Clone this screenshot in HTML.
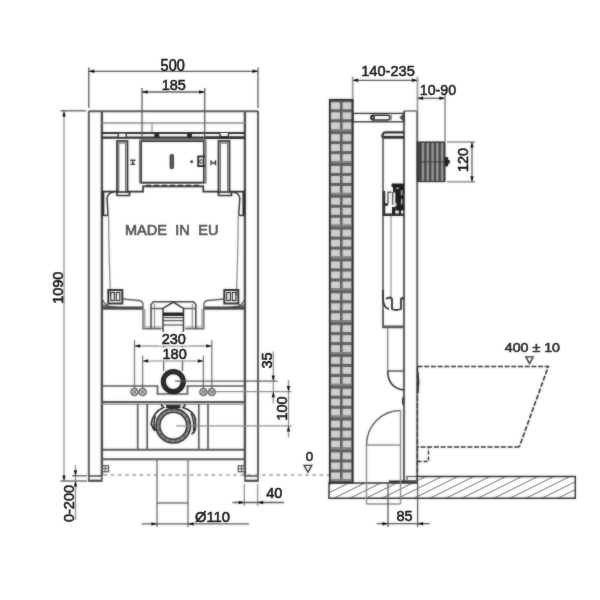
<!DOCTYPE html>
<html lang="en"><head><meta charset="utf-8"><title>Installation frame drawing</title>
<style>
html,body{margin:0;padding:0;background:#fff;}
body{width:600px;height:600px;overflow:hidden;}
svg{display:block;font-family:"Liberation Sans",Arial,Helvetica,sans-serif;}
</style></head><body>
<svg width="600" height="600" viewBox="0 0 600 600">
<defs><filter id="soft" x="0" y="0" width="600" height="600" filterUnits="userSpaceOnUse" color-interpolation-filters="sRGB"><feGaussianBlur in="SourceGraphic" stdDeviation="0.8" result="b"/><feComposite in="SourceGraphic" in2="b" operator="arithmetic" k1="0" k2="0.55" k3="0.45" k4="0"/></filter>
<filter id="softt" x="0" y="0" width="600" height="600" filterUnits="userSpaceOnUse" color-interpolation-filters="sRGB"><feGaussianBlur in="SourceGraphic" stdDeviation="0.8" result="b"/><feComposite in="SourceGraphic" in2="b" operator="arithmetic" k1="0" k2="0.75" k3="0.25" k4="0"/></filter></defs>
<rect width="600" height="600" fill="#fff"/>
<g filter="url(#soft)">
<line x1="88.8" y1="111" x2="88.8" y2="476" stroke="#555" stroke-width="1.95" />
<line x1="101.9" y1="111" x2="101.9" y2="476" stroke="#484848" stroke-width="2.34" />
<line x1="244.9" y1="111" x2="244.9" y2="476" stroke="#484848" stroke-width="2.34" />
<line x1="258" y1="111" x2="258" y2="476" stroke="#555" stroke-width="1.95" />
<rect x="88.8" y="476" width="13.0" height="5" stroke="#555" stroke-width="1.69" fill="none" />
<line x1="88.8" y1="480.6" x2="101.8" y2="480.6" stroke="#444" stroke-width="1.82" />
<rect x="245" y="476" width="13" height="5" stroke="#555" stroke-width="1.69" fill="none" />
<line x1="245" y1="480.6" x2="258" y2="480.6" stroke="#444" stroke-width="1.82" />
<line x1="88.8" y1="111.2" x2="258" y2="111.2" stroke="#555" stroke-width="1.95" />
<line x1="101.8" y1="123" x2="245" y2="123" stroke="#8a8a8a" stroke-width="1.30" />
<line x1="152" y1="123" x2="152" y2="133" stroke="#8a8a8a" stroke-width="1.17" />
<line x1="101.8" y1="133" x2="245" y2="133" stroke="#2a2a2a" stroke-width="2.08" />
<line x1="101.8" y1="137.6" x2="245" y2="137.6" stroke="#2a2a2a" stroke-width="2.34" />
<rect x="118.3" y="133" width="8" height="4.5" stroke="#2a2a2a" stroke-width="1.30" fill="#fff" />
<rect x="155" y="133" width="3.6" height="4.5" stroke="#2a2a2a" stroke-width="1.30" fill="#222" />
<rect x="187.8" y="133" width="3.4" height="4.5" stroke="#2a2a2a" stroke-width="1.30" fill="#222" />
<path d="M219.5 133 L220.5 136.6 H228 L229 133" stroke="#2a2a2a" stroke-width="1.43" fill="#fff" />
<line x1="205" y1="137.7" x2="245" y2="137.7" stroke="#2a2a2a" stroke-width="2.47" />
<rect x="117" y="141" width="10.5" height="51" stroke="#2a2a2a" stroke-width="1.69" fill="none" />
<rect x="118.8" y="143" width="6.9" height="49" stroke="#555" stroke-width="1.04" fill="none" />
<path d="M117 192 v3.5 h12.5 v-3.5" stroke="#2a2a2a" stroke-width="1.69" fill="none" />
<rect x="218.5" y="141" width="11.0" height="51" stroke="#2a2a2a" stroke-width="1.69" fill="none" />
<rect x="220.3" y="143" width="7.4" height="49" stroke="#555" stroke-width="1.04" fill="none" />
<path d="M218.5 192 v3.5 h13.0 v-3.5" stroke="#2a2a2a" stroke-width="1.69" fill="none" />
<line x1="130.0" y1="160.2" x2="135.60000000000002" y2="160.2" stroke="#2a2a2a" stroke-width="1.30" />
<line x1="130.5" y1="164.3" x2="135.10000000000002" y2="164.3" stroke="#2a2a2a" stroke-width="1.30" />
<line x1="132.8" y1="160" x2="132.8" y2="164.3" stroke="#2a2a2a" stroke-width="1.43" />
<line x1="211.10000000000002" y1="160.3" x2="211.10000000000002" y2="165.3" stroke="#2a2a2a" stroke-width="1.30" />
<line x1="215.5" y1="160.3" x2="215.5" y2="165.3" stroke="#2a2a2a" stroke-width="1.30" />
<line x1="211.10000000000002" y1="162.8" x2="215.5" y2="162.8" stroke="#2a2a2a" stroke-width="1.43" />
<rect x="140" y="140" width="65.5" height="43" stroke="#7a7a7a" stroke-width="2.21" fill="none" rx="1.5"/>
<rect x="141.3" y="141.3" width="62.4" height="41" stroke="#2a2a2a" stroke-width="1.30" fill="none" rx="1"/>
<line x1="146" y1="185.5" x2="200" y2="185.5" stroke="#2a2a2a" stroke-width="1.56" stroke-dasharray="5 3"/>
<rect x="170.3" y="154.5" width="3" height="14" stroke="#2a2a2a" stroke-width="1.17" fill="#666" rx="1.3"/>
<circle cx="191.7" cy="161.7" r="1.1" stroke="#2a2a2a" stroke-width="0.78" fill="#2a2a2a"/>
<path d="M205 156.5 H198.2 V166 H205" stroke="#2a2a2a" stroke-width="1.95" fill="none" />
<circle cx="201.5" cy="161.5" r="1.8" stroke="#2a2a2a" stroke-width="1.04" fill="none"/>
<path d="M101.8 191.7 H117 M127.5 191.7 H143 V186.3 H203.3 V191.7 H218.5 M229.5 191.7 H245" stroke="#2a2a2a" stroke-width="1.69" fill="none" />
<path d="M102.5 192 V214 Q102.5 215.5 104 215.5 H106.5 Q108 215.5 108 214 L107 198 Q108 192.5 114 192" stroke="#2a2a2a" stroke-width="1.43" fill="none" />
<path d="M244.3 192 V214 Q244.3 215.5 242.8 215.5 H240.3 Q238.8 215.5 238.8 214 L239.8 198 Q238.8 192.5 232.8 192" stroke="#2a2a2a" stroke-width="1.43" fill="none" />
<line x1="103.3" y1="192" x2="103.3" y2="215" stroke="#2a2a2a" stroke-width="2.08" />
<line x1="243.5" y1="192" x2="243.5" y2="215" stroke="#2a2a2a" stroke-width="2.08" />
<path d="M108.5 215 Q109 260 110.5 296" stroke="#8a8a8a" stroke-width="1.30" fill="none" />
<path d="M238.3 215 Q237.8 260 236.3 296" stroke="#8a8a8a" stroke-width="1.30" fill="none" />
<rect x="108.3" y="290" width="14" height="13.5" stroke="#2a2a2a" stroke-width="1.95" fill="none" />
<rect x="110.8" y="292.5" width="3.5" height="8" stroke="#2a2a2a" stroke-width="1.17" fill="none" />
<rect x="116.3" y="292.5" width="3.5" height="8" stroke="#2a2a2a" stroke-width="1.17" fill="none" />
<rect x="224.3" y="290" width="14" height="13.5" stroke="#2a2a2a" stroke-width="1.95" fill="none" />
<rect x="226.8" y="292.5" width="3.5" height="8" stroke="#2a2a2a" stroke-width="1.17" fill="none" />
<rect x="232.3" y="292.5" width="3.5" height="8" stroke="#2a2a2a" stroke-width="1.17" fill="none" />
<path d="M102 297 Q103 304 108 305 M122.5 299 L139 300.5 Q143 301 143 305 M102 305 Q120 309.5 143 307.5 M102 309 H143" stroke="#555" stroke-width="1.30" fill="none" />
<path d="M245 297 Q244 304 239 305 M224.3 299 L207.8 300.5 Q203.8 301 203.8 305 M245 305 Q227 309.5 203.8 307.5 M245 309 H203.8" stroke="#555" stroke-width="1.30" fill="none" />
<line x1="102" y1="307.8" x2="143" y2="307.8" stroke="#444" stroke-width="2.60" />
<line x1="203.8" y1="307.8" x2="245" y2="307.8" stroke="#444" stroke-width="2.60" />
<path d="M143 305 V328.7 H161.5" stroke="#666" stroke-width="1.43" fill="none" />
<path d="M144.8 309 V327 M143 327 H161.5" stroke="#8a8a8a" stroke-width="1.17" fill="none" />
<path d="M203.8 305 V328.7 H185.3" stroke="#666" stroke-width="1.43" fill="none" />
<path d="M202 309 V327 M203.8 327 H185.3" stroke="#8a8a8a" stroke-width="1.17" fill="none" />
<path d="M151 328.7 V304.5 L153.5 301.7 H193.3 L195.8 304.5 V328.7" stroke="#444" stroke-width="1.56" fill="none" />
<path d="M151 308.5 H163 M183.5 308.5 H195.8" stroke="#555" stroke-width="1.56" fill="none" />
<path d="M154.5 304 V328 M192.3 304 V328" stroke="#8a8a8a" stroke-width="1.17" fill="none" />
<path d="M163 331.5 V308.5 L173.3 302.2 L183.5 308.5 V331.5" stroke="#2a2a2a" stroke-width="1.43" fill="none" />
<line x1="163" y1="314.2" x2="183.5" y2="314.2" stroke="#1a1a1a" stroke-width="3.38" />
<line x1="163" y1="317.6" x2="183.5" y2="317.6" stroke="#555" stroke-width="1.30" />
<line x1="163" y1="320.6" x2="183.5" y2="320.6" stroke="#555" stroke-width="1.30" />
<line x1="163" y1="325" x2="183.5" y2="325" stroke="#555" stroke-width="1.30" />
<line x1="163.6" y1="331" x2="163.6" y2="371" stroke="#555" stroke-width="1.30" />
<line x1="182.5" y1="331" x2="182.5" y2="371" stroke="#555" stroke-width="1.30" />
<line x1="134.5" y1="346" x2="211.8" y2="346" stroke="#999" stroke-width="1.30" />
<line x1="134.5" y1="340" x2="134.5" y2="389" stroke="#777" stroke-width="1.30" />
<line x1="211.8" y1="340" x2="211.8" y2="389" stroke="#777" stroke-width="1.30" />
<rect x="158" y="332" width="32" height="13.5" fill="#fff"/>
<line x1="142.6" y1="361" x2="203.4" y2="361" stroke="#aaa" stroke-width="1.30" />
<line x1="142.6" y1="355.5" x2="142.6" y2="389" stroke="#777" stroke-width="1.30" />
<line x1="203.4" y1="355.5" x2="203.4" y2="389" stroke="#777" stroke-width="1.30" />
<rect x="158" y="347.5" width="32" height="12.5" fill="#fff"/>
<circle cx="134.5" cy="392" r="3.5" stroke="#666" stroke-width="1.56" fill="#e4e4e4"/>
<path d="M132.2 389.7 L136.8 394.3 M132.2 394.3 L136.8 389.7" stroke="#777" stroke-width="1.17" fill="none" />
<circle cx="142.6" cy="392" r="3.5" stroke="#666" stroke-width="1.56" fill="#e4e4e4"/>
<path d="M140.29999999999998 389.7 L144.9 394.3 M140.29999999999998 394.3 L144.9 389.7" stroke="#777" stroke-width="1.17" fill="none" />
<circle cx="203.4" cy="392" r="3.5" stroke="#666" stroke-width="1.56" fill="#e4e4e4"/>
<path d="M201.1 389.7 L205.70000000000002 394.3 M201.1 394.3 L205.70000000000002 389.7" stroke="#777" stroke-width="1.17" fill="none" />
<circle cx="211.8" cy="392" r="3.5" stroke="#666" stroke-width="1.56" fill="#e4e4e4"/>
<path d="M209.5 389.7 L214.10000000000002 394.3 M209.5 394.3 L214.10000000000002 389.7" stroke="#777" stroke-width="1.17" fill="none" />
<path d="M101.8 386 H157.5 V394 H187.5 V386 H245" stroke="#555" stroke-width="1.69" fill="none" />
<line x1="101.8" y1="402" x2="245" y2="402" stroke="#555" stroke-width="1.95" />
<line x1="101.8" y1="404.2" x2="245" y2="404.2" stroke="#8a8a8a" stroke-width="1.17" />
<circle cx="173.3" cy="381.6" r="10.0" stroke="#3c3c3c" stroke-width="3.90" fill="none"/>
<circle cx="173.3" cy="381.6" r="10" fill="none" stroke="#262626" stroke-width="3.8" stroke-dasharray="2.2 0.9"/>
<circle cx="173.3" cy="381.6" r="11.9" stroke="#1a1a1a" stroke-width="1.30" fill="none"/>
<circle cx="173.3" cy="381.6" r="8.0" stroke="#1a1a1a" stroke-width="1.17" fill="none"/>
<line x1="175" y1="381.2" x2="277.5" y2="381.2" stroke="#555" stroke-width="1.30" />
<line x1="157.5" y1="391.7" x2="291.7" y2="391.7" stroke="#555" stroke-width="0.00" />
<line x1="137.7" y1="404" x2="137.7" y2="449.7" stroke="#555" stroke-width="1.69" />
<line x1="147.2" y1="404" x2="147.2" y2="449.7" stroke="#555" stroke-width="1.69" />
<line x1="198.8" y1="404" x2="198.8" y2="449.7" stroke="#555" stroke-width="1.69" />
<line x1="208" y1="404" x2="208" y2="449.7" stroke="#555" stroke-width="1.69" />
<line x1="101.8" y1="449.7" x2="245" y2="449.7" stroke="#555" stroke-width="2.08" />
<line x1="101.8" y1="459.3" x2="245" y2="459.3" stroke="#555" stroke-width="2.08" />
<circle cx="173.3" cy="425.8" r="15.4" stroke="#8a8a8a" stroke-width="3.90" fill="none"/>
<circle cx="173.3" cy="425.8" r="15.4" fill="none" stroke="#5a5a5a" stroke-width="3.2" stroke-dasharray="1.1 4.3"/>
<circle cx="173.3" cy="425.8" r="17.3" stroke="#2a2a2a" stroke-width="1.43" fill="none"/>
<circle cx="173.3" cy="425.8" r="13.4" stroke="#2a2a2a" stroke-width="1.43" fill="none"/>
<path d="M161 404.5 L163.5 407.5 Q153 412 151.2 424 L154.5 430.5 M185.5 404.5 L183 407.5 Q193.5 411 195.3 419 L195.3 428 Q194.5 433 191.5 434" stroke="#2a2a2a" stroke-width="1.82" fill="none" />
<path d="M155.5 416 Q152.5 424 155.5 431 M191 413 Q194.5 421 193.5 431" stroke="#2a2a2a" stroke-width="1.43" fill="none" />
<path d="M166 406.5 H180.5" stroke="#2a2a2a" stroke-width="3.25" fill="none" />
<line x1="176" y1="425.8" x2="291.7" y2="425.8" stroke="#8a8a8a" stroke-width="1.30" />
<rect x="102" y="465.7" width="6.5" height="6" stroke="#555" stroke-width="1.30" fill="none" />
<line x1="105.2" y1="465.7" x2="105.2" y2="471.7" stroke="#555" stroke-width="1.04" />
<line x1="102" y1="468.7" x2="108.5" y2="468.7" stroke="#555" stroke-width="1.04" />
<rect x="238.3" y="465.7" width="6.5" height="6" stroke="#555" stroke-width="1.30" fill="none" />
<line x1="241.5" y1="465.7" x2="241.5" y2="471.7" stroke="#555" stroke-width="1.04" />
<line x1="238.3" y1="468.7" x2="244.8" y2="468.7" stroke="#555" stroke-width="1.04" />
<line x1="157" y1="459.3" x2="157" y2="527" stroke="#6a6a6a" stroke-width="1.30" />
<line x1="188" y1="459.3" x2="188" y2="527" stroke="#6a6a6a" stroke-width="1.30" />
<line x1="157" y1="503" x2="188" y2="503" stroke="#555" stroke-width="1.30" />
<line x1="103.5" y1="475" x2="329" y2="475" stroke="#6e6e6e" stroke-width="1.10" stroke-dasharray="3.8 3.4"/>
<line x1="88.8" y1="71.3" x2="258" y2="71.3" stroke="#555" stroke-width="1.30" />
<line x1="88.8" y1="67.5" x2="88.8" y2="108" stroke="#555" stroke-width="1.30" />
<line x1="258" y1="67.5" x2="258" y2="108" stroke="#555" stroke-width="1.30" />
<line x1="142" y1="92" x2="204.7" y2="92" stroke="#555" stroke-width="1.30" />
<line x1="142" y1="88" x2="142" y2="140" stroke="#555" stroke-width="1.30" />
<line x1="204.7" y1="88" x2="204.7" y2="140" stroke="#555" stroke-width="1.30" />
<line x1="64" y1="111" x2="64" y2="481" stroke="#8a8a8a" stroke-width="1.30" />
<line x1="60.5" y1="110.8" x2="86" y2="110.8" stroke="#555" stroke-width="1.30" />
<line x1="60.5" y1="481" x2="87" y2="481" stroke="#555" stroke-width="1.30" />
<line x1="75.5" y1="465" x2="75.5" y2="520" stroke="#8a8a8a" stroke-width="1.30" />
<line x1="72" y1="475.8" x2="87" y2="475.8" stroke="#555" stroke-width="1.30" />
<line x1="141.7" y1="523.9" x2="249" y2="523.9" stroke="#555" stroke-width="1.30" />
<line x1="244.3" y1="484" x2="244.3" y2="506" stroke="#8a8a8a" stroke-width="1.30" />
<line x1="257.6" y1="484" x2="257.6" y2="506" stroke="#8a8a8a" stroke-width="1.30" />
<line x1="232.5" y1="502.5" x2="284" y2="502.5" stroke="#555" stroke-width="1.30" />
<line x1="273.3" y1="351.5" x2="273.3" y2="403.5" stroke="#8a8a8a" stroke-width="1.30" />
<line x1="203.4" y1="391.7" x2="291.7" y2="391.7" stroke="#8a8a8a" stroke-width="1.30" />
<line x1="288.5" y1="380" x2="288.5" y2="437.5" stroke="#8a8a8a" stroke-width="1.30" />
<path d="M304 465.3 H311.9 L307.9 472.2 Z" stroke="#2a2a2a" stroke-width="1.30" fill="none" />
<g>
<rect x="329" y="99" width="24.4" height="384" fill="#5e5e5e"/>
<clipPath id="wc"><rect x="329" y="99" width="24.4" height="384"/></clipPath>
<g clip-path="url(#wc)">
<rect x="331" y="102.30" width="9" height="7" fill="#d0d0d0"/>
<rect x="342.6" y="102.30" width="8.7" height="7" fill="#d0d0d0"/>
<rect x="331" y="112.30" width="9" height="7" fill="#d0d0d0"/>
<rect x="342.6" y="112.30" width="8.7" height="7" fill="#d0d0d0"/>
<rect x="331" y="122.30" width="9" height="7" fill="#d0d0d0"/>
<rect x="342.6" y="122.30" width="8.7" height="7" fill="#d0d0d0"/>
<rect x="330.5" y="129.10" width="21.5" height="2.2" fill="#828282"/>
<rect x="331" y="134.13" width="9" height="7" fill="#d0d0d0"/>
<rect x="342.6" y="134.13" width="8.7" height="7" fill="#d0d0d0"/>
<rect x="331" y="144.13" width="9" height="7" fill="#d0d0d0"/>
<rect x="342.6" y="144.13" width="8.7" height="7" fill="#d0d0d0"/>
<rect x="331" y="154.13" width="9" height="7" fill="#d0d0d0"/>
<rect x="342.6" y="154.13" width="8.7" height="7" fill="#d0d0d0"/>
<rect x="330.5" y="160.93" width="21.5" height="2.2" fill="#828282"/>
<rect x="331" y="165.96" width="9" height="7" fill="#d0d0d0"/>
<rect x="342.6" y="165.96" width="8.7" height="7" fill="#d0d0d0"/>
<rect x="331" y="175.96" width="9" height="7" fill="#d0d0d0"/>
<rect x="342.6" y="175.96" width="8.7" height="7" fill="#d0d0d0"/>
<rect x="331" y="185.96" width="9" height="7" fill="#d0d0d0"/>
<rect x="342.6" y="185.96" width="8.7" height="7" fill="#d0d0d0"/>
<rect x="330.5" y="192.76" width="21.5" height="2.2" fill="#828282"/>
<rect x="331" y="197.79" width="9" height="7" fill="#d0d0d0"/>
<rect x="342.6" y="197.79" width="8.7" height="7" fill="#d0d0d0"/>
<rect x="331" y="207.79" width="9" height="7" fill="#d0d0d0"/>
<rect x="342.6" y="207.79" width="8.7" height="7" fill="#d0d0d0"/>
<rect x="331" y="217.79" width="9" height="7" fill="#d0d0d0"/>
<rect x="342.6" y="217.79" width="8.7" height="7" fill="#d0d0d0"/>
<rect x="330.5" y="224.59" width="21.5" height="2.2" fill="#828282"/>
<rect x="331" y="229.62" width="9" height="7" fill="#d0d0d0"/>
<rect x="342.6" y="229.62" width="8.7" height="7" fill="#d0d0d0"/>
<rect x="331" y="239.62" width="9" height="7" fill="#d0d0d0"/>
<rect x="342.6" y="239.62" width="8.7" height="7" fill="#d0d0d0"/>
<rect x="331" y="249.62" width="9" height="7" fill="#d0d0d0"/>
<rect x="342.6" y="249.62" width="8.7" height="7" fill="#d0d0d0"/>
<rect x="330.5" y="256.42" width="21.5" height="2.2" fill="#828282"/>
<rect x="331" y="261.45" width="9" height="7" fill="#d0d0d0"/>
<rect x="342.6" y="261.45" width="8.7" height="7" fill="#d0d0d0"/>
<rect x="331" y="271.45" width="9" height="7" fill="#d0d0d0"/>
<rect x="342.6" y="271.45" width="8.7" height="7" fill="#d0d0d0"/>
<rect x="331" y="281.45" width="9" height="7" fill="#d0d0d0"/>
<rect x="342.6" y="281.45" width="8.7" height="7" fill="#d0d0d0"/>
<rect x="330.5" y="288.25" width="21.5" height="2.2" fill="#828282"/>
<rect x="331" y="293.28" width="9" height="7" fill="#d0d0d0"/>
<rect x="342.6" y="293.28" width="8.7" height="7" fill="#d0d0d0"/>
<rect x="331" y="303.28" width="9" height="7" fill="#d0d0d0"/>
<rect x="342.6" y="303.28" width="8.7" height="7" fill="#d0d0d0"/>
<rect x="331" y="313.28" width="9" height="7" fill="#d0d0d0"/>
<rect x="342.6" y="313.28" width="8.7" height="7" fill="#d0d0d0"/>
<rect x="330.5" y="320.08" width="21.5" height="2.2" fill="#828282"/>
<rect x="331" y="325.11" width="9" height="7" fill="#d0d0d0"/>
<rect x="342.6" y="325.11" width="8.7" height="7" fill="#d0d0d0"/>
<rect x="331" y="335.11" width="9" height="7" fill="#d0d0d0"/>
<rect x="342.6" y="335.11" width="8.7" height="7" fill="#d0d0d0"/>
<rect x="331" y="345.11" width="9" height="7" fill="#d0d0d0"/>
<rect x="342.6" y="345.11" width="8.7" height="7" fill="#d0d0d0"/>
<rect x="330.5" y="351.91" width="21.5" height="2.2" fill="#828282"/>
<rect x="331" y="356.94" width="9" height="7" fill="#d0d0d0"/>
<rect x="342.6" y="356.94" width="8.7" height="7" fill="#d0d0d0"/>
<rect x="331" y="366.94" width="9" height="7" fill="#d0d0d0"/>
<rect x="342.6" y="366.94" width="8.7" height="7" fill="#d0d0d0"/>
<rect x="331" y="376.94" width="9" height="7" fill="#d0d0d0"/>
<rect x="342.6" y="376.94" width="8.7" height="7" fill="#d0d0d0"/>
<rect x="330.5" y="383.74" width="21.5" height="2.2" fill="#828282"/>
<rect x="331" y="388.77" width="9" height="7" fill="#d0d0d0"/>
<rect x="342.6" y="388.77" width="8.7" height="7" fill="#d0d0d0"/>
<rect x="331" y="398.77" width="9" height="7" fill="#d0d0d0"/>
<rect x="342.6" y="398.77" width="8.7" height="7" fill="#d0d0d0"/>
<rect x="331" y="408.77" width="9" height="7" fill="#d0d0d0"/>
<rect x="342.6" y="408.77" width="8.7" height="7" fill="#d0d0d0"/>
<rect x="330.5" y="415.57" width="21.5" height="2.2" fill="#828282"/>
<rect x="331" y="420.60" width="9" height="7" fill="#d0d0d0"/>
<rect x="342.6" y="420.60" width="8.7" height="7" fill="#d0d0d0"/>
<rect x="331" y="430.60" width="9" height="7" fill="#d0d0d0"/>
<rect x="342.6" y="430.60" width="8.7" height="7" fill="#d0d0d0"/>
<rect x="331" y="440.60" width="9" height="7" fill="#d0d0d0"/>
<rect x="342.6" y="440.60" width="8.7" height="7" fill="#d0d0d0"/>
<rect x="330.5" y="447.40" width="21.5" height="2.2" fill="#828282"/>
<rect x="331" y="452.43" width="9" height="7" fill="#d0d0d0"/>
<rect x="342.6" y="452.43" width="8.7" height="7" fill="#d0d0d0"/>
<rect x="331" y="462.43" width="9" height="7" fill="#d0d0d0"/>
<rect x="342.6" y="462.43" width="8.7" height="7" fill="#d0d0d0"/>
<rect x="331" y="472.43" width="9" height="7" fill="#d0d0d0"/>
<rect x="342.6" y="472.43" width="8.7" height="7" fill="#d0d0d0"/>
<rect x="330.5" y="479.23" width="21.5" height="2.2" fill="#828282"/>
<rect x="331" y="484.26" width="9" height="7" fill="#d0d0d0"/>
<rect x="342.6" y="484.26" width="8.7" height="7" fill="#d0d0d0"/>
<rect x="331" y="494.26" width="9" height="7" fill="#d0d0d0"/>
<rect x="342.6" y="494.26" width="8.7" height="7" fill="#d0d0d0"/>
<rect x="331" y="504.26" width="9" height="7" fill="#d0d0d0"/>
<rect x="342.6" y="504.26" width="8.7" height="7" fill="#d0d0d0"/>
<rect x="330.5" y="511.06" width="21.5" height="2.2" fill="#828282"/>
</g>
<rect x="329.7" y="99.7" width="23" height="382.8" fill="none" stroke="#262626" stroke-width="1.6"/>
</g>
<clipPath id="fc"><path d="M329 483 H417.3 V476.5 H575.3 V498.3 H329 Z"/></clipPath>
<g clip-path="url(#fc)" stroke="#606060" stroke-width="0.95">
<line x1="329.8" y1="476.5" x2="285.8" y2="498.3"/>
<line x1="345.8" y1="476.5" x2="301.8" y2="498.3"/>
<line x1="361.8" y1="476.5" x2="317.8" y2="498.3"/>
<line x1="377.8" y1="476.5" x2="333.8" y2="498.3"/>
<line x1="393.8" y1="476.5" x2="349.8" y2="498.3"/>
<line x1="409.8" y1="476.5" x2="365.8" y2="498.3"/>
<line x1="425.8" y1="476.5" x2="381.8" y2="498.3"/>
<line x1="441.8" y1="476.5" x2="397.8" y2="498.3"/>
<line x1="457.8" y1="476.5" x2="413.8" y2="498.3"/>
<line x1="473.8" y1="476.5" x2="429.8" y2="498.3"/>
<line x1="489.8" y1="476.5" x2="445.8" y2="498.3"/>
<line x1="505.8" y1="476.5" x2="461.8" y2="498.3"/>
<line x1="521.8" y1="476.5" x2="477.8" y2="498.3"/>
<line x1="537.8" y1="476.5" x2="493.8" y2="498.3"/>
<line x1="553.8" y1="476.5" x2="509.8" y2="498.3"/>
<line x1="569.8" y1="476.5" x2="525.8" y2="498.3"/>
<line x1="585.8" y1="476.5" x2="541.8" y2="498.3"/>
<line x1="601.8" y1="476.5" x2="557.8" y2="498.3"/>
<line x1="617.8" y1="476.5" x2="573.8" y2="498.3"/>
<line x1="633.8" y1="476.5" x2="589.8" y2="498.3"/>
</g>
<path d="M329 483 H417.3 V476.5 H575.3 V498.3 H329 Z" stroke="#2a2a2a" stroke-width="1.43" fill="none" />
<line x1="404" y1="111" x2="404" y2="481" stroke="#5c5c5c" stroke-width="2.08" />
<line x1="417.2" y1="111" x2="417.2" y2="477" stroke="#606060" stroke-width="1.95" />
<line x1="404" y1="111" x2="417.2" y2="111" stroke="#707070" stroke-width="1.56" />
<path d="M389 481.6 H417.5" stroke="#2a2a2a" stroke-width="2.21" fill="none" />
<rect x="407" y="476.5" width="10" height="4.5" stroke="#555" stroke-width="1.30" fill="none" />
<rect x="353" y="113.4" width="51" height="8.4" stroke="#2a2a2a" stroke-width="1.30" fill="none" />
<rect x="370.8" y="115.2" width="19.2" height="4.8" stroke="#2a2a2a" stroke-width="1.43" fill="none" rx="2.4"/>
<circle cx="372.7" cy="117.6" r="1.5" stroke="#2a2a2a" stroke-width="1.69" fill="none"/>
<line x1="391.3" y1="113.3" x2="391.3" y2="122" stroke="#888" stroke-width="1.17" />
<polygon points="399.3,117.6 403.6,113.6 403.6,121.6" fill="#4a4a4a"/>
<path d="M404 132.3 H385.5 Q382.3 132.6 382.3 137.3" stroke="#2a2a2a" stroke-width="2.21" fill="none" />
<line x1="382" y1="137.3" x2="404" y2="137.3" stroke="#2a2a2a" stroke-width="2.86" />
<line x1="383" y1="137.3" x2="383" y2="327.5" stroke="#555" stroke-width="1.69" />
<line x1="391" y1="215" x2="391" y2="300" stroke="#8a8a8a" stroke-width="1.17" />
<rect x="395.3" y="186" width="8.7" height="24.5" fill="#1c1c1c"/>
<rect x="391.5" y="183.6" width="12.5" height="3.6" fill="#1c1c1c" rx="1"/>
<rect x="400.8" y="190" width="1.7" height="5.5" fill="#aaa"/>
<rect x="400.8" y="199" width="1.7" height="5.5" fill="#aaa"/>
<rect x="396.5" y="187.5" width="2.5" height="1.6" fill="#bbb"/>
<rect x="394.5" y="203" width="2" height="3" fill="#ddd"/>
<path d="M384 191 V214.7 H404" stroke="#2a2a2a" stroke-width="2.47" fill="none" />
<path d="M384.5 204.5 H388" stroke="#2a2a2a" stroke-width="2.60" fill="none" />
<path d="M388 204 V192.3 H391.5 M392.6 192 V205" stroke="#555" stroke-width="1.43" fill="none" />
<rect x="392" y="207" width="3.3" height="7.5" fill="#1c1c1c"/>
<rect x="398.8" y="209.5" width="2.2" height="5" fill="#1c1c1c"/>
<rect x="393" y="186.5" width="2.5" height="6" fill="#1c1c1c"/>
<path d="M383 290 V300 Q384 308 389 309 M386 299 Q390 296 392 299 V309 Q396 311 401 309 V299 Q403 297 404 299" stroke="#2a2a2a" stroke-width="1.82" fill="none" />
<path d="M383 310 V327.5 H404" stroke="#555" stroke-width="1.56" fill="none" />
<line x1="383" y1="326.5" x2="404" y2="326.5" stroke="#555" stroke-width="2.08" />
<line x1="387.7" y1="327.5" x2="387.7" y2="371" stroke="#8a8a8a" stroke-width="1.56" />
<line x1="387.7" y1="371" x2="404" y2="371" stroke="#555" stroke-width="1.56" />
<path d="M387.7 371 Q388 388 404 390" stroke="#2a2a2a" stroke-width="1.56" fill="none" />
<path d="M403.3 397 Q402 401 403.3 405" stroke="#2a2a2a" stroke-width="1.56" fill="none" />
<path d="M366.5 445 A34 34.5 0 0 1 400.5 410.5" stroke="#555" stroke-width="1.43" fill="none" />
<line x1="366.5" y1="445" x2="366.5" y2="504" stroke="#8a8a8a" stroke-width="1.43" />
<line x1="400.5" y1="410.5" x2="400.5" y2="504" stroke="#8a8a8a" stroke-width="1.43" />
<line x1="366.5" y1="445" x2="400.5" y2="445" stroke="#8a8a8a" stroke-width="1.43" />
<line x1="366.5" y1="504" x2="400.5" y2="504" stroke="#8a8a8a" stroke-width="1.43" />
<rect x="417.3" y="142" width="27.7" height="39.6" fill="#444" stroke="#2a2a2a" stroke-width="1.1"/>
<rect x="421.8" y="143" width="2.4" height="37.8" fill="#999"/>
<rect x="426.6" y="143" width="2.4" height="37.8" fill="#999"/>
<rect x="431.40000000000003" y="143" width="2.4" height="37.8" fill="#999"/>
<rect x="436.1" y="143" width="2.4" height="37.8" fill="#999"/>
<rect x="440.90000000000003" y="143" width="2.4" height="37.8" fill="#999"/>
<line x1="417.3" y1="161.8" x2="445" y2="161.8" stroke="#444" stroke-width="1.17" />
<rect x="445" y="157" width="3.2" height="9.5" fill="#222" rx="1.2"/>
<rect x="448" y="160" width="1.8" height="3.5" fill="#222"/>
<path d="M417.8 372 Q419.3 382 417.8 393" stroke="#2a2a2a" stroke-width="1.69" fill="none" />
<path d="M417.5 366.5 H548.3 L519.3 447" stroke="#2a2a2a" stroke-width="1.62" fill="none" stroke-dasharray="5 1.7"/>
<path d="M519.3 447 H417.5" stroke="#2a2a2a" stroke-width="1.62" fill="none" stroke-dasharray="5 1.7"/>
<path d="M417.5 461.5 H428.5 V447" stroke="#2a2a2a" stroke-width="1.43" fill="none" stroke-dasharray="4 2"/>
<path d="M417.4 367 V477" stroke="#2a2a2a" stroke-width="1.30" fill="none" stroke-dasharray="5 2.2"/>
<path d="M525.8 356.8 H533.2 L529.5 363.6 Z" stroke="#2a2a2a" stroke-width="1.30" fill="none" />
<line x1="352.5" y1="80.3" x2="417.5" y2="80.3" stroke="#555" stroke-width="1.30" />
<line x1="352.7" y1="76.5" x2="352.7" y2="99" stroke="#999" stroke-width="1.82" />
<line x1="417.5" y1="76.5" x2="417.5" y2="111" stroke="#999" stroke-width="1.82" />
<line x1="417.5" y1="98.3" x2="445" y2="98.3" stroke="#555" stroke-width="1.30" />
<line x1="445" y1="94" x2="445" y2="141" stroke="#999" stroke-width="1.82" />
<line x1="447" y1="142" x2="475" y2="142" stroke="#999" stroke-width="1.69" />
<line x1="447" y1="181.8" x2="475" y2="181.8" stroke="#999" stroke-width="1.69" />
<line x1="472" y1="142" x2="472" y2="181.8" stroke="#555" stroke-width="1.30" />
<line x1="388" y1="482" x2="388" y2="527" stroke="#555" stroke-width="1.30" />
<line x1="417.6" y1="482" x2="417.6" y2="527" stroke="#555" stroke-width="1.30" />
<line x1="376.7" y1="523.7" x2="429.7" y2="523.7" stroke="#555" stroke-width="1.30" />
</g>
<g filter="url(#softt)">
<text transform="translate(125.0 234.6) scale(1.0 1.0)" font-size="14.5" text-anchor="start" fill="#5a5a5a" stroke="#5a5a5a" stroke-width="0.7" style="word-spacing:4.4px">MADE IN EU</text>
<polygon points="134.5,346 140.1,344.3 140.1,347.7" fill="#1e1e1e"/>
<polygon points="211.8,346 206.20000000000002,344.3 206.20000000000002,347.7" fill="#1e1e1e"/>
<text transform="translate(173.8 344.4) scale(1.0 1.04)" font-size="14.5" text-anchor="middle" fill="#141414" stroke="#141414" stroke-width="0.55" >230</text>
<polygon points="142.6,361 148.2,359.3 148.2,362.7" fill="#1e1e1e"/>
<polygon points="203.4,361 197.8,359.3 197.8,362.7" fill="#1e1e1e"/>
<text transform="translate(174.6 359) scale(1.0 1.04)" font-size="14.5" text-anchor="middle" fill="#141414" stroke="#141414" stroke-width="0.55" >180</text>
<polygon points="88.8,71.3 94.39999999999999,69.6 94.39999999999999,73.0" fill="#1e1e1e"/>
<polygon points="258,71.3 252.4,69.6 252.4,73.0" fill="#1e1e1e"/>
<text transform="translate(172.7 70.7) scale(1.0 1.08)" font-size="14.5" text-anchor="middle" fill="#141414" stroke="#141414" stroke-width="0.55" >500</text>
<polygon points="142,92 147.6,90.3 147.6,93.7" fill="#1e1e1e"/>
<polygon points="204.7,92 199.1,90.3 199.1,93.7" fill="#1e1e1e"/>
<text transform="translate(173.8 90) scale(1.0 1.04)" font-size="14.5" text-anchor="middle" fill="#141414" stroke="#141414" stroke-width="0.55" >185</text>
<polygon points="64,111 62.3,116.6 65.7,116.6" fill="#1e1e1e"/>
<polygon points="64,481 62.3,475.4 65.7,475.4" fill="#1e1e1e"/>
<text transform="translate(62.8 287.7) rotate(-90) scale(1.0 1.0)" font-size="14.5" text-anchor="middle" fill="#141414" stroke="#141414" stroke-width="0.55" >1090</text>
<polygon points="75.5,475.8 73.8,470.2 77.2,470.2" fill="#1e1e1e"/>
<polygon points="75.5,481 73.8,486.6 77.2,486.6" fill="#1e1e1e"/>
<text transform="translate(74.3 503.5) rotate(-90) scale(1.0 1.0)" font-size="14.5" text-anchor="middle" fill="#141414" stroke="#141414" stroke-width="0.55" >0-200</text>
<polygon points="157,523.9 151.4,522.1999999999999 151.4,525.6" fill="#1e1e1e"/>
<polygon points="188,523.9 193.6,522.1999999999999 193.6,525.6" fill="#1e1e1e"/>
<text transform="translate(195 522) scale(1 1.04)" font-size="14.5" text-anchor="start" fill="#141414" stroke="#141414" stroke-width="0.55" textLength="35" lengthAdjust="spacingAndGlyphs" >Ø110</text>
<polygon points="244.3,502.5 238.70000000000002,500.8 238.70000000000002,504.2" fill="#1e1e1e"/>
<polygon points="257.6,502.5 263.20000000000005,500.8 263.20000000000005,504.2" fill="#1e1e1e"/>
<text transform="translate(266.3 497.6) scale(1.0 1.04)" font-size="14.5" text-anchor="start" fill="#141414" stroke="#141414" stroke-width="0.55" >40</text>
<polygon points="273.3,381.2 271.6,375.59999999999997 275.0,375.59999999999997" fill="#1e1e1e"/>
<polygon points="273.3,391.7 271.6,397.3 275.0,397.3" fill="#1e1e1e"/>
<text transform="translate(271.5 360.5) rotate(-90) scale(1.0 1.0)" font-size="14.5" text-anchor="middle" fill="#141414" stroke="#141414" stroke-width="0.55" >35</text>
<polygon points="288.5,391.7 286.8,386.09999999999997 290.2,386.09999999999997" fill="#1e1e1e"/>
<polygon points="288.5,425.8 286.8,431.40000000000003 290.2,431.40000000000003" fill="#1e1e1e"/>
<text transform="translate(286.5 408.5) rotate(-90) scale(1.0 1.0)" font-size="14.5" text-anchor="middle" fill="#141414" stroke="#141414" stroke-width="0.55" >100</text>
<text transform="translate(305.7 460.6) scale(1.0 1.0)" font-size="13.3" text-anchor="start" fill="#141414" stroke="#141414" stroke-width="0.55" >0</text>
<text transform="translate(504.8 352) scale(1.0 0.93)" font-size="14.2" text-anchor="start" fill="#2e2e2e" stroke="#2e2e2e" stroke-width="0.7" >400 ± 10</text>
<polygon points="352.5,80.3 358.1,78.6 358.1,82.0" fill="#1e1e1e"/>
<polygon points="417.5,80.3 411.9,78.6 411.9,82.0" fill="#1e1e1e"/>
<text transform="translate(361.2 76.4) scale(1 1.04)" font-size="14.5" text-anchor="start" fill="#141414" stroke="#141414" stroke-width="0.5" textLength="53.6" lengthAdjust="spacingAndGlyphs" >140-235</text>
<polygon points="417.5,98.3 423.1,96.6 423.1,100.0" fill="#1e1e1e"/>
<polygon points="445,98.3 439.4,96.6 439.4,100.0" fill="#1e1e1e"/>
<text transform="translate(419.8 95) scale(1 1.04)" font-size="14.5" text-anchor="start" fill="#141414" stroke="#141414" stroke-width="0.5" textLength="36.3" lengthAdjust="spacingAndGlyphs" >10-90</text>
<polygon points="472,142 470.3,147.6 473.7,147.6" fill="#1e1e1e"/>
<polygon points="472,181.8 470.3,176.20000000000002 473.7,176.20000000000002" fill="#1e1e1e"/>
<text transform="translate(467.5 160) rotate(-90) scale(1.0 1.0)" font-size="14.5" text-anchor="middle" fill="#141414" stroke="#141414" stroke-width="0.55" >120</text>
<polygon points="388,523.7 382.4,522.0 382.4,525.4000000000001" fill="#1e1e1e"/>
<polygon points="417.6,523.7 423.20000000000005,522.0 423.20000000000005,525.4000000000001" fill="#1e1e1e"/>
<text transform="translate(404.5 521.4) scale(1.0 1.04)" font-size="14.5" text-anchor="middle" fill="#141414" stroke="#141414" stroke-width="0.55" >85</text>
</g>
</svg>
</body></html>
